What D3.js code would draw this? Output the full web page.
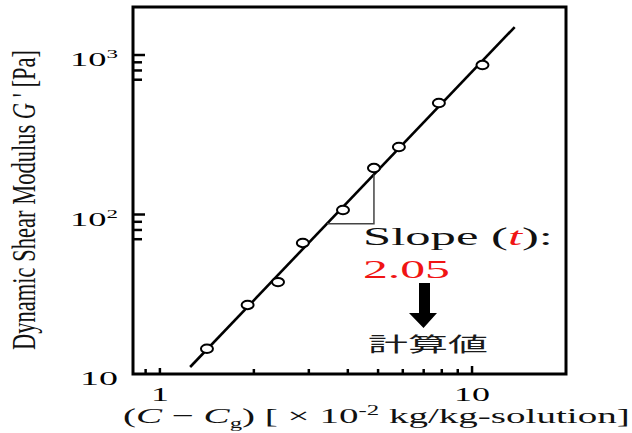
<!DOCTYPE html>
<html>
<head>
<meta charset="utf-8">
<script src="https://cdn.jsdelivr.net/npm/d3@7"></script>
<style>
  body { margin: 0; background: #fff; }
  svg { display: block; }
</style>
</head>
<body>
<div id="chart"></div>
<script>
// measured points (C - Cg vs G')
const concX = [1.415, 1.91, 2.39, 2.87, 3.86, 4.85, 5.83, 7.83, 10.8]
const modulusG = [14.4, 27.1, 37.7, 66.3, 106.7, 195.6, 265, 500, 865]

// power law fit G' = k * x^t
const fitSlope = 2.05
const fitCoef = 7.0
const fitX = [1.25, 13.7]
const triX = [3.43, 4.85]

// ticks
const xMajor = [1, 10]
const xMajorLabels = ['1', '10']
const xMinor = [0.9, 2, 3, 4, 5, 6, 7, 8, 9]
const yMajor = [10, 100, 1000]
const yMajorExp = ['', '2', '3']
const yMinor = [70, 80, 90, 700, 800, 900]

const W = 632, H = 433
const serif = '"Liberation Serif", "Times New Roman", serif'

const svg = d3.select('#chart').append('svg')
    .attr('width', W)
    .attr('height', H)

const x = d3.scaleLog().domain([0.82, 20]).range([133, 566])
const y = d3.scaleLog().domain([10, 2000]).range([374, 7])
const fit = (v) => fitCoef * Math.pow(v, fitSlope)

// stretch a text horizontally so it covers [x0, x1]
function fitText(t, x0, x1, yb) {
    const w = t.node().getComputedTextLength()
    t.attr('text-anchor', 'start')
     .attr('transform', `translate(${x0},${yb}) scale(${(x1 - x0) / w},1)`)
    return t
}

// frame
svg.append('rect')
    .attr('x', x.range()[0])
    .attr('y', y.range()[1])
    .attr('width', x.range()[1] - x.range()[0])
    .attr('height', y.range()[0] - y.range()[1])
    .attr('fill', 'none')
    .attr('stroke', '#000')
    .attr('stroke-width', 3)

// y ticks (inward)
const yt = svg.append('g').attr('id', 'y-ticks')
yt.selectAll('line.maj').data(yMajor.slice(1)).enter().append('line')
    .attr('x1', x.range()[0]).attr('x2', x.range()[0] + 12)
    .attr('y1', d => y(d)).attr('y2', d => y(d))
    .attr('stroke', '#000').attr('stroke-width', 2.5)
yt.selectAll('line.min').data(yMinor).enter().append('line')
    .attr('x1', x.range()[0]).attr('x2', x.range()[0] + 9)
    .attr('y1', d => y(d)).attr('y2', d => y(d))
    .attr('stroke', '#000').attr('stroke-width', 2.5)

// x ticks (inward)
const xt = svg.append('g').attr('id', 'x-ticks')
xt.selectAll('line.maj').data(xMajor).enter().append('line')
    .attr('x1', d => x(d)).attr('x2', d => x(d))
    .attr('y1', y.range()[0]).attr('y2', d => y.range()[0] - (d == 10 ? 8 : 6))
    .attr('stroke', '#000').attr('stroke-width', 2.5)
xt.selectAll('line.min').data(xMinor).enter().append('line')
    .attr('x1', d => x(d)).attr('x2', d => x(d))
    .attr('y1', y.range()[0]).attr('y2', y.range()[0] - 5)
    .attr('stroke', '#000').attr('stroke-width', 2.5)

// y tick labels
yMajor.forEach((v, i) => {
    const t = svg.append('text')
        .style('font-family', serif)
        .style('font-size', '19px')
        .attr('fill', '#000')
    t.append('tspan').text('10')
    if (yMajorExp[i]) {
        t.append('tspan').text(yMajorExp[i])
            .style('font-size', '12px')
            .attr('dy', -8)
    }
    const x1 = 118
    const x0 = yMajorExp[i] ? 70 : 80
    fitText(t, x0, x1, y(v) + 11)
})

// x tick labels
xMajor.forEach((v, i) => {
    const t = svg.append('text')
        .text(xMajorLabels[i])
        .style('font-family', serif)
        .style('font-size', '19px')
    const half = xMajorLabels[i].length * 9
    fitText(t, x(v) - half, x(v) + half, 401)
})

// x axis title
const xl = svg.append('text')
    .style('font-family', serif)
    .style('font-size', '22px')
    .attr('fill', '#111')
xl.append('tspan').text('(')
xl.append('tspan').text('C').style('font-style', 'italic')
xl.append('tspan').text(' \u2212 ')
xl.append('tspan').text('C').style('font-style', 'italic')
xl.append('tspan').text('g').style('font-size', '14px').attr('dy', 5)
xl.append('tspan').text(') [ \u00d7 10').attr('dy', -5)
xl.append('tspan').text('-2').style('font-size', '14px').attr('dy', -8)
xl.append('tspan').text(' kg/kg-solution]').attr('dy', 8)
fitText(xl, 123, 630, 423)

// y axis title (rotated, squeezed)
const yl = svg.append('text')
    .style('font-family', serif)
    .style('font-size', '33px')
    .attr('fill', '#111')
yl.append('tspan').text('Dynamic Shear Modulus ')
yl.append('tspan').text('G').style('font-style', 'italic')
yl.append('tspan').text(" ' [Pa]")
const ylw = yl.node().getComputedTextLength()
yl.attr('text-anchor', 'middle')
  .attr('transform', `translate(35,200) rotate(-90) scale(${300 / ylw},1)`)

// fit line
const fitData = fitX.map(v => [v, fit(v)])
svg.append('path')
    .datum(fitData)
    .attr('d', d3.line().x(d => x(d[0])).y(d => y(d[1])))
    .attr('stroke', '#000')
    .attr('stroke-width', 2.6)
    .attr('fill', 'none')

// slope triangle
const tri = [[triX[0], fit(triX[0])], [triX[1], fit(triX[0])], [triX[1], fit(triX[1])]]
svg.append('path')
    .datum(tri)
    .attr('d', d3.line().x(d => x(d[0])).y(d => y(d[1])))
    .attr('stroke', '#444')
    .attr('stroke-width', 1.5)
    .attr('fill', 'none')

// markers
svg.append('g').attr('class', 'points')
    .selectAll('ellipse')
    .data(concX.map((v, i) => [v, modulusG[i]]))
    .enter().append('ellipse')
    .attr('cx', d => x(d[0]))
    .attr('cy', d => y(d[1]))
    .attr('rx', 6)
    .attr('ry', 4.2)
    .attr('fill', '#fff')
    .attr('stroke', '#000')
    .attr('stroke-width', 2)

// annotation
const s1 = svg.append('text')
    .style('font-family', serif)
    .style('font-size', '26px')
    .attr('fill', '#111')
s1.append('tspan').text('Slope (')
s1.append('tspan').text('t').style('font-style', 'italic').attr('fill', '#f01414')
s1.append('tspan').text('):')
fitText(s1, 363, 553, 245)

const s2 = svg.append('text')
    .text('2.05')
    .style('font-family', serif)
    .style('font-size', '26px')
    .attr('fill', '#f01414')
fitText(s2, 363, 450, 278)

svg.append('path')
    .attr('d', 'M419,283 L430,283 L430,313 L437,313 L423.5,328 L409,313 L419,313 Z')
    .attr('fill', '#000')

const s3 = svg.append('text')
    .text('計算値')
    .style('font-family', '"Noto Sans CJK JP", sans-serif')
    .style('font-size', '20px')
    .attr('fill', '#1a1a1a')
fitText(s3, 368, 488, 352)
</script>
</body>
</html>
